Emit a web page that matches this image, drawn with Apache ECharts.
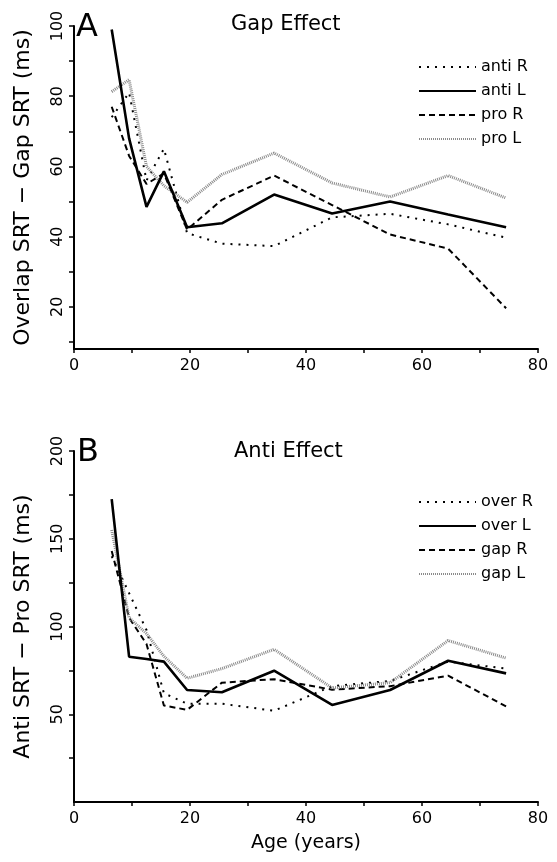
<!DOCTYPE html>
<html>
<head>
<meta charset="utf-8">
<script src="https://cdn.jsdelivr.net/npm/echarts@6/dist/echarts.min.js"></script>
<style>
  html, body { margin: 0; padding: 0; background: #fff; }
  #chart { width: 557px; height: 862px; }
</style>
</head>
<body>
<div id="chart"></div>
<script>
// ages (years) of each group
const ages = [6.5, 9.5, 12.5, 15.5, 19.5, 25.5, 34.5, 44.5, 54.5, 64.5, 74.5];

// panel A: overlap SRT - gap SRT (ms)
const antiR = [74, 81, 56, 65, 41, 38, 37.3, 45.5, 46.5, 43.5, 39.7];
const antiL = [99, 68, 48.5, 58.6, 42.7, 43.8, 52, 46.6, 50, 46.3, 42.7];
const proR  = [77, 63, 55, 58, 42, 50.5, 57.4, 49, 40.6, 36.6, 19.6];
const proL  = [81.3, 84.7, 60, 54.5, 49.8, 57.7, 63.8, 55.3, 51.3, 57.4, 51];

// panel B: anti SRT - pro SRT (ms)
const overR = [140, 119, 98, 62, 56, 56, 52, 66, 69, 80, 76];
const overL = [172.6, 82.8, 81.5, 80, 63.8, 62.5, 74.8, 55.3, 63.8, 80.5, 73.3];
const gapR  = [143, 105, 90, 55, 52.5, 68, 70, 64, 66, 72, 54.5];
const gapL  = [155, 105, 96, 83, 70.5, 76, 87, 65, 68, 92, 82];

// tick labels
const xTicks = [0, 10, 20, 30, 40, 50, 60, 70, 80];
const xLabels = [0, 20, 40, 60, 80];
const yTicksA = [10, 20, 30, 40, 50, 60, 70, 80, 90, 100];
const yLabelsA = [20, 40, 60, 80, 100];
const yTicksB = [25, 50, 75, 100, 125, 150, 175, 200];
const yLabelsB = [50, 100, 150, 200];

const font = 'DejaVu Sans';
const chart = echarts.init(document.getElementById('chart'));

const pairs = vals => ages.map((a, i) => [a, vals[i]]);

const styles = {
  dot:   { color: '#000', width: 2, type: [2, 6] },
  solid: { color: '#000', width: 2.6, type: 'solid' },
  dash:  { color: '#000', width: 2, type: [6, 4] },
  grey:  { color: '#8a8a8a', width: 3, type: [1, 1] }
};

const mkLine = (name, vals, st, idx) => ({
  name: name,
  type: 'line',
  xAxisIndex: idx,
  yAxisIndex: idx,
  data: pairs(vals),
  symbol: 'none',
  lineStyle: st,
  itemStyle: { color: st.color },
  z: st === styles.solid ? 5 : 3,
  animation: false
});

const xAxisBase = (idx, withName) => ({
  type: 'value',
  gridIndex: idx,
  min: 0,
  max: 80,
  splitLine: { show: false },
  axisLine: { lineStyle: { color: '#000', width: 2 } },
  axisTick: { customValues: xTicks, length: 4, lineStyle: { color: '#000', width: 1.5 } },
  axisLabel: { customValues: xLabels, color: '#000', fontFamily: font, fontSize: 16, margin: 9 },
  name: withName ? 'Age (years)' : '',
  nameLocation: 'middle',
  nameGap: 32,
  nameTextStyle: { color: '#000', fontFamily: font, fontSize: 19 }
});

const yAxisBase = (idx, min, max, ticks, labels, name) => ({
  type: 'value',
  gridIndex: idx,
  min: min,
  max: max,
  splitLine: { show: false },
  axisLine: { lineStyle: { color: '#000', width: 2 } },
  axisTick: { customValues: ticks, length: 5, lineStyle: { color: '#000', width: 1.5 } },
  axisLabel: { customValues: labels, rotate: 90, color: '#000', fontFamily: font, fontSize: 16, margin: 8 },
  name: name,
  nameLocation: 'middle',
  nameRotate: 90,
  nameGap: 40,
  nameTextStyle: { color: '#000', fontFamily: font, fontSize: 22 }
});

const legendBase = (top, names) => ({
  data: names,
  orient: 'vertical',
  left: 413,
  top: top,
  itemWidth: 57,
  itemHeight: 14,
  itemGap: 8,
  itemStyle: { opacity: 0 },
  lineStyle: { width: 2 },
  textStyle: { color: '#000', fontFamily: font, fontSize: 16, lineHeight: 14 },
  selectedMode: false
});

chart.setOption({
  animation: false,
  title: [
    { text: 'A', left: 71, top: 7, textStyle: { fontFamily: font, fontSize: 32, fontWeight: 'normal', color: '#000' } },
    { text: 'Gap Effect', left: 226, top: 9, textStyle: { fontFamily: font, fontSize: 21, fontWeight: 'normal', color: '#000' } },
    { text: 'B', left: 72, top: 432, textStyle: { fontFamily: font, fontSize: 32, fontWeight: 'normal', color: '#000' } },
    { text: 'Anti Effect', left: 229, top: 436, textStyle: { fontFamily: font, fontSize: 21, fontWeight: 'normal', color: '#000' } }
  ],
  legend: [
    legendBase(54, ['anti R', 'anti L', 'pro R', 'pro L']),
    legendBase(489, ['over R', 'over L', 'gap R', 'gap L'])
  ],
  grid: [
    { left: 74, top: 26, width: 464, height: 323 },
    { left: 74, top: 451, width: 464, height: 351 }
  ],
  xAxis: [xAxisBase(0, false), xAxisBase(1, true)],
  yAxis: [
    yAxisBase(0, 8, 100, yTicksA, yLabelsA, 'Overlap SRT \u2212 Gap SRT (ms)'),
    yAxisBase(1, 0, 200, yTicksB, yLabelsB, 'Anti SRT \u2212 Pro SRT (ms)')
  ],
  series: [
    mkLine('anti R', antiR, styles.dot, 0),
    mkLine('anti L', antiL, styles.solid, 0),
    mkLine('pro R', proR, styles.dash, 0),
    mkLine('pro L', proL, styles.grey, 0),
    mkLine('over R', overR, styles.dot, 1),
    mkLine('over L', overL, styles.solid, 1),
    mkLine('gap R', gapR, styles.dash, 1),
    mkLine('gap L', gapL, styles.grey, 1)
  ]
});
</script>
</body>
</html>
